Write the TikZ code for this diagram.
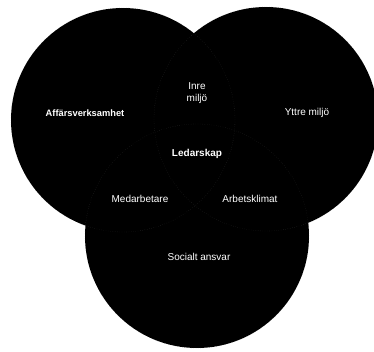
\documentclass[tikz,border=0pt]{standalone}
\usepackage{fontspec}
\setmainfont{Liberation Sans}
\begin{document}
\begin{tikzpicture}[x=1pt,y=-1pt,
  venn/.style={circle, fill=black, inner sep=0pt, minimum size=224pt},
  rim/.style={draw=black!75, line width=0.3pt, dotted},
  lbl/.style={text=white, font=\fontsize{10}{12}\selectfont, align=center, inner sep=1pt},
  lblb/.style={lbl, font=\fontsize{10}{12}\selectfont\bfseries}]
\useasboundingbox (0,0) rectangle (374,352);
\clip (0,0) rectangle (374,352);
\fill[white] (0,0) rectangle (374,352);
\node[venn] (L) at (123,120) {};
\node[venn] (R) at (266,119) {};
\node[venn] (B) at (197,236) {};
\draw[rim] (L.center) circle[radius=112pt];
\draw[rim] (R.center) circle[radius=112pt];
\draw[rim] (B.center) circle[radius=112pt];
\node[lblb, font=\fontsize{9.3}{11}\selectfont\bfseries] (aff) at (85,113) {Affärsverksamhet};
\node[lbl] (inre) at (197,93) {Inre\\miljö};
\node[lbl] (yttre) at (307,113) {Yttre miljö};
\node[lblb] (led) at (197,154) {Ledarskap};
\node[lbl] (med) at (140,199) {Medarbetare};
\node[lbl] (arb) at (250,199) {Arbetsklimat};
\node[lbl] (soc) at (199,257) {Socialt ansvar};
\end{tikzpicture}
\end{document}
